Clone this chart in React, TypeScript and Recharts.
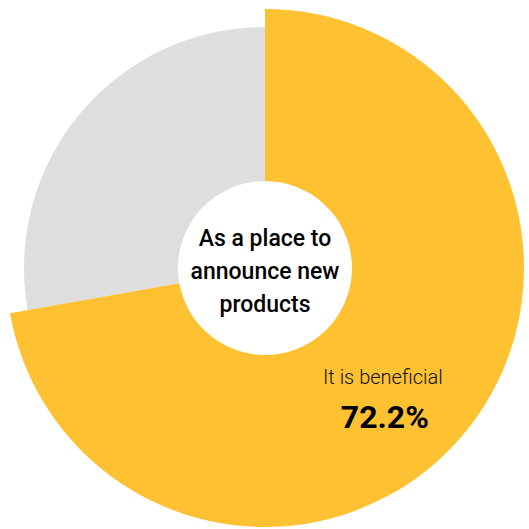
import React from 'react';
import { PieChart, Pie, Cell, Label } from 'recharts';

const categories = ['It is beneficial', 'Other'];
const values = [72.2, 27.8];
const colors = ['#FDC131', '#DEDEDE'];
const centerLines = ['As a place to', 'announce new', 'products'];

const data = categories.map((name, i) => ({ name, value: values[i] }));

const CX = 265;
const CY = 268;
const RAD = Math.PI / 180;

const renderLabel = (props: any) => {
  const { index, midAngle, cx, cy, payload } = props;
  if (index !== 0) return null;
  const r = 172;
  const x = cx + r * Math.cos(-midAngle * RAD) - 14;
  const y = cy + r * Math.sin(-midAngle * RAD);
  return (
    <g>
      <text x={x} y={y + 6} textAnchor="middle" fill="#111" fontSize={20} fontWeight={300} fontFamily="Roboto">
        {payload.name}
      </text>
      <text x={x + 2} y={y + 50} textAnchor="middle" fill="#000" fontSize={32} fontWeight={700} fontFamily="Roboto">
        {payload.value.toFixed(1)}%
      </text>
    </g>
  );
};

const CenterText = (props: any) => {
  const { viewBox } = props;
  const cx = viewBox?.cx ?? CX;
  const cy = viewBox?.cy ?? CY;
  return (
    <text textAnchor="middle" fill="#000" fontSize={23} fontWeight={500} fontFamily="Roboto">
      {centerLines.map((line, i) => (
        <tspan key={line} x={cx} y={cy - 22 + i * 33}>
          {line}
        </tspan>
      ))}
    </text>
  );
};

const App: React.FC = () => {
  return (
    <div style={{ position: 'absolute', left: 0, top: 0, width: 529, height: 529, background: '#fff' }}>
      <PieChart width={529} height={529} margin={{ top: 0, right: 0, bottom: 0, left: 0 }}>
        <Pie
          data={data}
          dataKey="value"
          cx={CX}
          cy={CY}
          innerRadius={87}
          outerRadius={241}
          startAngle={90}
          endAngle={-270}
          stroke="none"
          isAnimationActive={false}
        >
          {data.map((d, i) => (
            <Cell key={d.name} fill={i === 1 ? colors[1] : 'transparent'} />
          ))}
        </Pie>
        <Pie
          data={data}
          dataKey="value"
          cx={CX}
          cy={CY}
          innerRadius={87}
          outerRadius={259}
          startAngle={90}
          endAngle={-270}
          stroke="none"
          label={renderLabel}
          labelLine={false}
          isAnimationActive={false}
        >
          {data.map((d, i) => (
            <Cell key={d.name} fill={i === 0 ? colors[0] : 'transparent'} />
          ))}
          <Label position="center" content={<CenterText />} />
        </Pie>
      </PieChart>
    </div>
  );
};

export default App;
